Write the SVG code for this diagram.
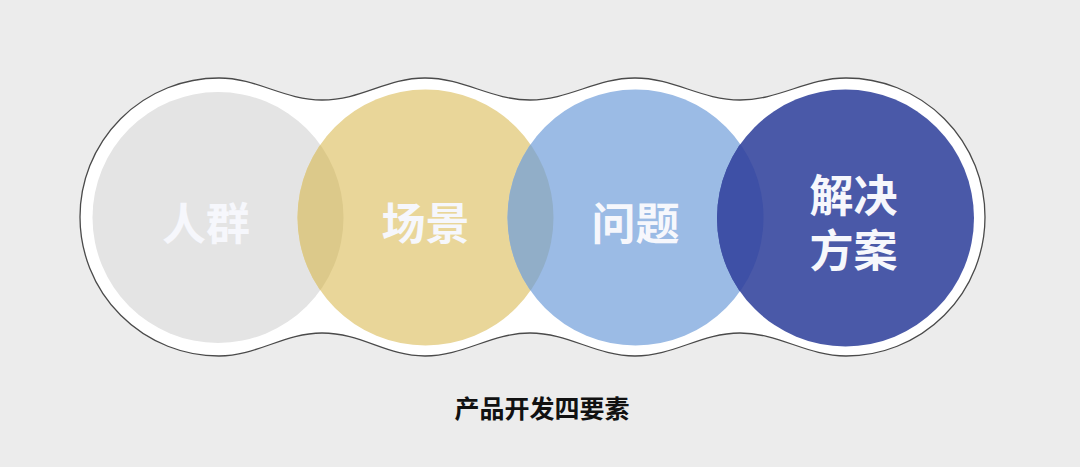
<svg xmlns="http://www.w3.org/2000/svg" width="1080" height="467" viewBox="0 0 1080 467">
  <style>
    .lbl { font-family: "Noto Sans CJK SC", "Noto Sans", sans-serif; font-weight: 700; font-size: 44px; fill: #f6f7fc; text-anchor: middle; }
    .title { font-family: "Noto Sans CJK SC", "Noto Sans", sans-serif; font-weight: 700; font-size: 25px; fill: #111111; text-anchor: middle; }
  </style>
  <defs>
    <clipPath id="cGray"><circle cx="218" cy="217.5" r="125.5"/></clipPath>
    <clipPath id="cYellow"><circle cx="425.5" cy="217.5" r="128"/></clipPath>
    <clipPath id="cBlue"><circle cx="635.5" cy="217.5" r="128"/></clipPath>
  </defs>
  <rect x="0" y="0" width="1080" height="467" fill="#ececec"/>
  <g id="frame">
    <path d="M 219 78 C 257 78 284 100 322 100 C 362 100 386 78 425 78 C 464 78 491 100 530 100 C 569 100 596 78 635 78 C 674 78 701 100 740 100 C 779 100 807 78 846 78 A 139 139 0 0 1 846 356 C 807 356 779 333 740 333 C 701 333 674 356 635 356 C 596 356 569 333 530 333 C 491 333 464 356 425 356 C 386 356 362 333 322 333 C 284 333 257 356 219 356 A 139 139 0 0 1 219 78 Z" fill="#ffffff" stroke="#4a4a4a" stroke-width="1.3"/>
  </g>
  <g id="node-renqun">
    <circle cx="218" cy="217.5" r="125.5" fill="#e4e4e4"/>
    <text class="lbl" x="206" y="240">人群</text>
  </g>
  <g id="node-changjing">
    <circle cx="425.5" cy="217.5" r="128" fill="#e9d699"/>
    <circle cx="425.5" cy="217.5" r="128" fill="#dcc98a" clip-path="url(#cGray)"/>
    <text class="lbl" x="425.5" y="240">场景</text>
  </g>
  <g id="node-wenti">
    <circle cx="635.5" cy="217.5" r="128" fill="#9bbbe5"/>
    <circle cx="635.5" cy="217.5" r="128" fill="#91aec8" clip-path="url(#cYellow)"/>
    <text class="lbl" x="635.5" y="240">问题</text>
  </g>
  <g id="node-fangan">
    <circle cx="845.5" cy="218" r="128.5" fill="#4a59a8"/>
    <circle cx="845.5" cy="218" r="128.5" fill="#3e50a6" clip-path="url(#cBlue)"/>
    <text class="lbl" x="853.5" y="212">解决<tspan x="853.5" dy="55">方案</tspan></text>
  </g>
  <g id="caption">
    <text class="title" x="542" y="418">产品开发四要素</text>
  </g>
</svg>
